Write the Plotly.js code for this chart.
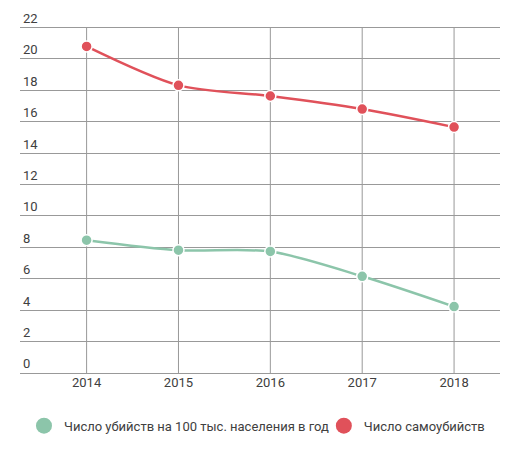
<!DOCTYPE html>
<html>
<head>
<meta charset="utf-8">
<script src="https://cdn.plot.ly/plotly-3.0.1.min.js"></script>
<style>
  html, body { margin: 0; padding: 0; background: #fff; }
  #chart { width: 523px; height: 457px; }
</style>
</head>
<body>
<div id="chart"></div>
<script>
// годы и значения
var years = ['2014', '2015', '2016', '2017', '2018'];
var murders = [8.46, 7.82, 7.74, 6.16, 4.23];
var suicides = [20.8, 18.32, 17.64, 16.81, 15.66];
var murderName = 'Число убийств на 100 тыс. населения в год';
var suicideName = 'Число самоубийств';
var yTicks = [0, 2, 4, 6, 8, 10, 12, 14, 16, 18, 20, 22];

var green = '#8cc5aa';
var red = '#e0515a';
var gridColor = '#999';
var textColor = '#404040';

var trace1 = {
  x: years,
  y: murders,
  name: murderName,
  type: 'scatter',
  mode: 'lines+markers',
  line: { color: green, width: 2.5, shape: 'spline', smoothing: 0.8 },
  marker: { color: green, size: 11, line: { color: '#fff', width: 1.5 } },
  showlegend: false,
  hoverinfo: 'x+y'
};

var trace2 = {
  x: years,
  y: suicides,
  name: suicideName,
  type: 'scatter',
  mode: 'lines+markers',
  line: { color: red, width: 2.5, shape: 'spline', smoothing: 0.8 },
  marker: { color: red, size: 11, line: { color: '#fff', width: 1.5 } },
  showlegend: false,
  hoverinfo: 'x+y'
};

// только для легенды (большие кружки)
var legend1 = {
  x: [null], y: [null], name: murderName, type: 'scatter', mode: 'markers',
  marker: { color: green, size: 16 }, legend: 'legend'
};
var legend2 = {
  x: [null], y: [null], name: suicideName, type: 'scatter', mode: 'markers',
  marker: { color: red, size: 16 }, legend: 'legend2'
};

var data = [trace1, trace2, legend1, legend2];

// вертикальная сетка только до верхней линии (22)
// на категориальной оси shapes берут номер категории
var yTop = yTicks[yTicks.length - 1];
var vGrid = years.map(function (yr, i) {
  return {
    type: 'line', xref: 'x', yref: 'y',
    x0: i, x1: i, y0: 0, y1: yTop,
    line: { color: gridColor, width: 1 },
    layer: 'below'
  };
});

var legendBase = {
  orientation: 'h',
  xanchor: 'left',
  yanchor: 'middle',
  y: -0.143,
  bgcolor: 'rgba(0,0,0,0)',
  font: { size: 13, color: textColor },
  itemsizing: 'trace'
};

var layout = {
  width: 523,
  height: 457,
  font: { family: 'Roboto, sans-serif', size: 13, color: textColor },
  paper_bgcolor: '#fff',
  plot_bgcolor: '#fff',
  margin: { l: 20, r: 23, t: 4, b: 84 },
  xaxis: {
    type: 'category',
    range: [-0.725, 4.5],
    showgrid: false,
    zeroline: false,
    showline: false,
    ticks: '',
    tickfont: { size: 13, color: textColor }
  },
  yaxis: {
    range: [0, 23.5],
    tickvals: yTicks,
    ticktext: yTicks.map(String),
    showgrid: true,
    gridcolor: gridColor,
    gridwidth: 1,
    zeroline: true,
    zerolinecolor: gridColor,
    zerolinewidth: 1,
    showline: false,
    ticks: '',
    ticklabelposition: 'inside top',
    tickfont: { size: 13, color: textColor }
  },
  shapes: vGrid,
  showlegend: true,
  legend: Object.assign({}, legendBase, { x: 0.0083 }),
  legend2: Object.assign({}, legendBase, { x: 0.633 })
};

var config = {
  responsive: false,
  displayModeBar: false
};

Plotly.newPlot('chart', data, layout, config);
</script>
</body>
</html>
